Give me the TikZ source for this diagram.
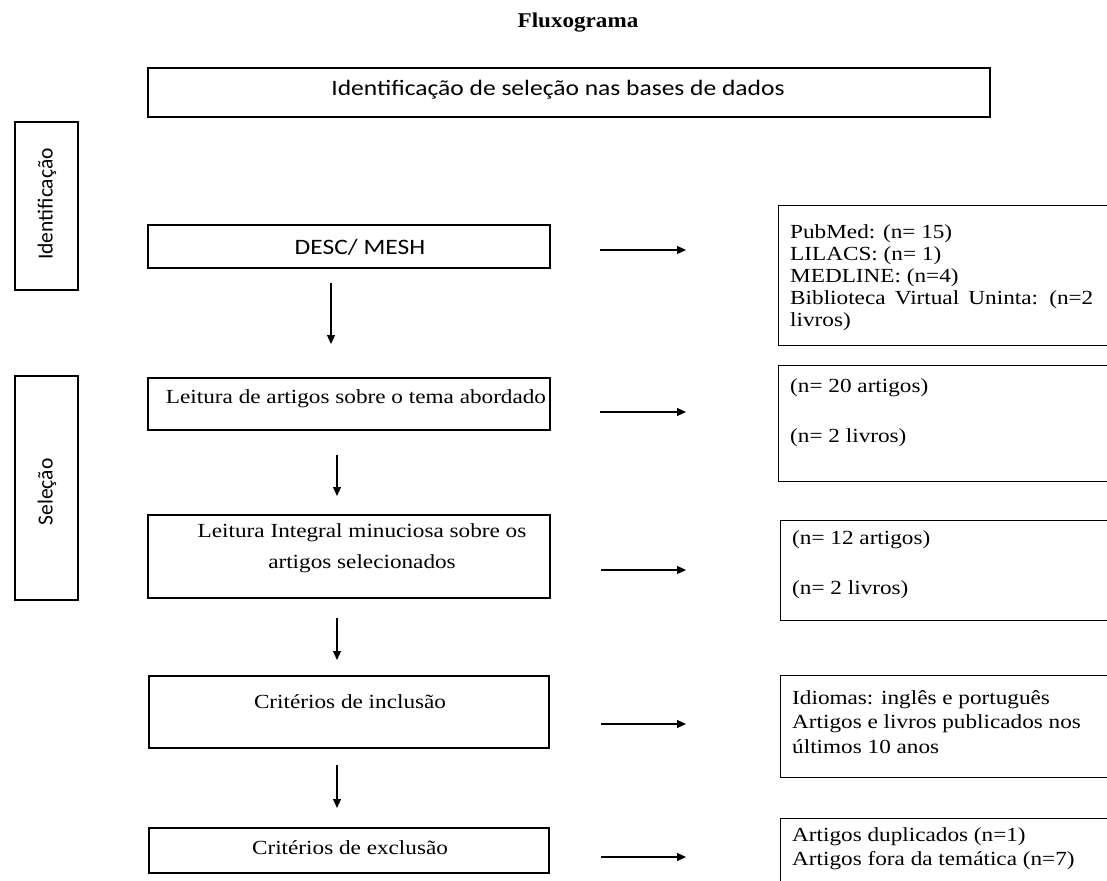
\documentclass[tikz,border=0pt]{standalone}
\usepackage{fontspec}
\setmainfont{Liberation Serif}
\newfontfamily\calib{Carlito}
\usetikzlibrary{arrows.meta}
\begin{document}
\begin{tikzpicture}[x=1pt,y=-1pt,
  box/.style={draw, line width=1.3pt, inner sep=0pt},
  arr/.style={-{Triangle[length=9pt,width=8pt]}, line width=1.2pt},
  ser/.style={font=\fontsize{20}{22}\selectfont, inner sep=0pt, xscale=1.16},
  sans/.style={font=\calib\fontsize{22}{24}\selectfont, inner sep=0pt, xscale=1.16},
  rsans/.style={font=\calib\fontsize{21.5}{24}\selectfont, inner sep=0pt, rotate=90}]
\useasboundingbox (0,0) rectangle (1107,880);
\clip (0,0) rectangle (1107,880);
\fill[white] (0,0) rectangle (1107,880);

\node[font=\bfseries\fontsize{21}{24}\selectfont, inner sep=0pt, xscale=1.1] (title) at (578,23) {Fluxograma};

% top box
\node[box, minimum width=842pt, minimum height=49pt] (top) at (569,92.5) {};
\node[sans] (toptxt) at (558,90) {Identificação de seleção nas bases de dados};

% side boxes
\node[box, minimum width=63pt, minimum height=168pt] (ident) at (46.5,206) {};
\node[rsans] (identtxt) at (47,204) {Identificação};
\node[box, minimum width=63pt, minimum height=224pt] (sel) at (46.5,488) {};
\node[rsans] (seltxt) at (47,492) {Seleção};

% main column
\node[box, minimum width=402pt, minimum height=43pt] (desc) at (349,246.5) {};
\node[sans] (desctxt) at (360,247) {DESC/ MESH};

\node[box, minimum width=402pt, minimum height=52pt] (leit) at (349,404) {};
\node[ser] (leittxt) at (356,399) {Leitura de artigos sobre o tema abordado};

\node[box, minimum width=402pt, minimum height=83pt] (integ) at (349,556.5) {};
\node[ser, align=center] (integtxt) at (362,548) {Leitura Integral minuciosa sobre os\\[9pt]artigos selecionados};

\node[box, minimum width=400pt, minimum height=72pt] (incl) at (349,712) {};
\node[ser] (incltxt) at (350,702) {Critérios de inclusão};

\node[box, minimum width=400pt, minimum height=45pt] (excl) at (349,850.5) {};
\node[ser] (excltxt) at (350,848) {Critérios de exclusão};

% vertical arrows
\coordinate (v1a) at (331,283); \coordinate (v1b) at (331,344);
\coordinate (v2a) at (337,455); \coordinate (v2b) at (337,496);
\coordinate (v3a) at (337,618); \coordinate (v3b) at (337,660);
\coordinate (v4a) at (337,765); \coordinate (v4b) at (337,808);
\draw[arr] (v1a) -- (v1b);
\draw[arr] (v2a) -- (v2b);
\draw[arr] (v3a) -- (v3b);
\draw[arr] (v4a) -- (v4b);

% horizontal arrows
\coordinate (h1a) at (600,250); \coordinate (h1b) at (686,250);
\coordinate (h2a) at (600,412); \coordinate (h2b) at (686,412);
\coordinate (h3a) at (601,570); \coordinate (h3b) at (686,570);
\coordinate (h4a) at (601,724); \coordinate (h4b) at (686,724);
\coordinate (h5a) at (601,857); \coordinate (h5b) at (686,857);
\draw[arr] (h1a) -- (h1b);
\draw[arr] (h2a) -- (h2b);
\draw[arr] (h3a) -- (h3b);
\draw[arr] (h4a) -- (h4b);
\draw[arr] (h5a) -- (h5b);

% right boxes
\node[box, minimum width=360pt, minimum height=140pt, anchor=north west] (r1) at (778,205) {};
\node[ser, align=left, anchor=north west] (r1txt) at (790,224) {PubMed: (n= 15)\\LILACS: (n= 1)\\MEDLINE: (n=4)\\Biblioteca\hspace{3pt} Virtual\hspace{3pt} Uninta:\hspace{3pt} (n=2\\livros)};

\node[box, minimum width=360pt, minimum height=116pt, anchor=north west] (r2) at (778,365) {};
\node[ser, anchor=west] (r2a) at (790,388) {(n= 20 artigos)};
\node[ser, anchor=west] (r2b) at (790,438) {(n= 2 livros)};

\node[box, minimum width=360pt, minimum height=100pt, anchor=north west] (r3) at (780,520) {};
\node[ser, anchor=west] (r3a) at (792,540) {(n= 12 artigos)};
\node[ser, anchor=west] (r3b) at (792,590) {(n= 2 livros)};

\node[box, minimum width=360pt, minimum height=102pt, anchor=north west] (r4) at (780,675) {};
\node[ser, align=left, anchor=north west, font=\fontsize{20}{24.5}\selectfont] (r4txt) at (792,690) {Idiomas: inglês e português\\Artigos e livros publicados nos\\últimos 10 anos};

\node[box, minimum width=360pt, minimum height=100pt, anchor=north west] (r5) at (780,818) {};
\node[ser, align=left, anchor=north west, font=\fontsize{20}{24.5}\selectfont] (r5txt) at (792,827) {Artigos duplicados (n=1)\\Artigos fora da temática (n=7)};
\end{tikzpicture}
\end{document}
